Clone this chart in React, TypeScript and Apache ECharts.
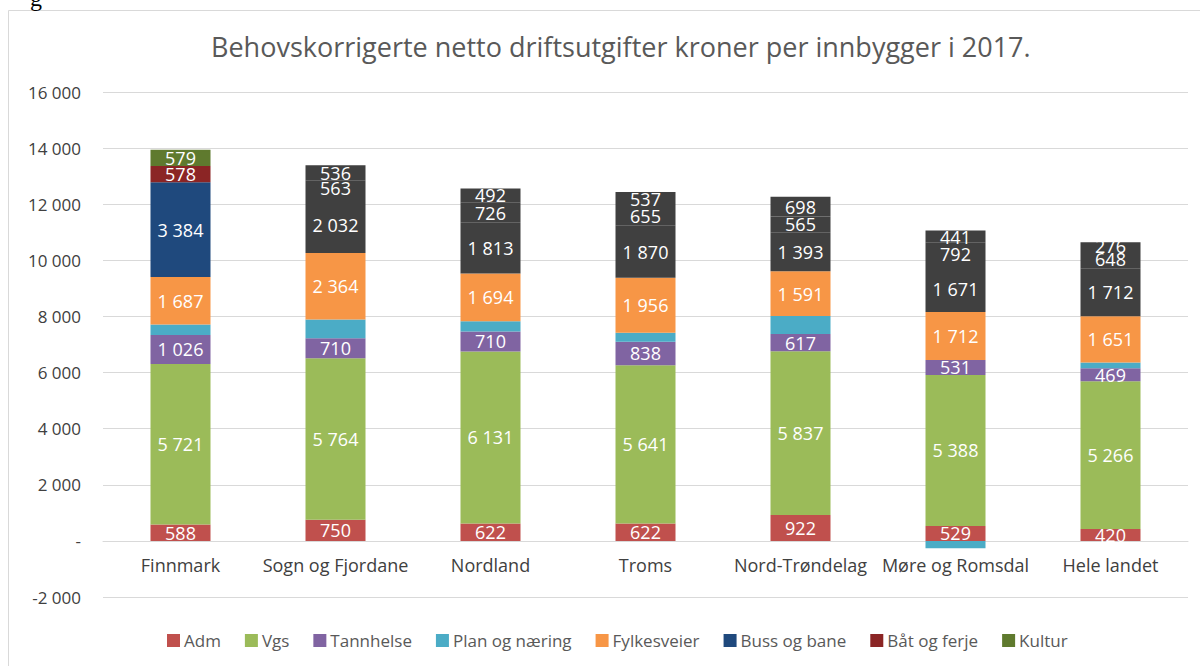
import React, { useEffect, useRef } from "react";
import * as echarts from "echarts";

const categories = [
  "Finnmark",
  "Sogn og Fjordane",
  "Nordland",
  "Troms",
  "Nord-Trøndelag",
  "Møre og Romsdal",
  "Hele landet",
];

const adm = [588, 750, 622, 622, 922, 529, 420];
const vgs = [5721, 5764, 6131, 5641, 5837, 5388, 5266];
const tannhelse = [1026, 710, 710, 838, 617, 531, 469];
const planOgNaering = [380, 670, 370, 320, 640, -260, 200];
const fylkesveier = [1687, 2364, 1694, 1956, 1591, 1712, 1651];
const bussOgBane = [3384, 2032, 1813, 1870, 1393, 1671, 1712];
const batOgFerje = [578, 563, 726, 655, 565, 792, 648];
const kultur = [579, 536, 492, 537, 698, 441, 276];

const yTicks = [-2000, 0, 2000, 4000, 6000, 8000, 10000, 12000, 14000, 16000];

const seriesNames = [
  "Adm",
  "Vgs",
  "Tannhelse",
  "Plan og næring",
  "Fylkesveier",
  "Buss og bane",
  "Båt og ferje",
  "Kultur",
];
const seriesValues = [adm, vgs, tannhelse, planOgNaering, fylkesveier, bussOgBane, batOgFerje, kultur];
const seriesColors = ["#C0504D", "#9BBB59", "#8064A2", "#4BACC6", "#F79646", "#1F497D", "#8B2525", "#5F7A2E"];
const showLabel = [true, true, true, false, true, true, true, true];
const darkOthers = [false, false, false, false, false, true, true, true];

const fmt = (v: number) => {
  if (v === 0) return "-";
  const s = String(Math.abs(v)).replace(/\B(?=(\d{3})+(?!\d))/g, " ");
  return (v < 0 ? "-" : "") + s;
};

const FONT = "Open Sans";
const DARK = "#404040";

export default function App() {
  const ref = useRef<HTMLDivElement>(null);
  useEffect(() => {
    if (!ref.current) return;
    const chart = echarts.init(ref.current, undefined, { renderer: "svg" });
    const series = seriesNames.map((name, si) => ({
      name,
      type: "bar",
      stack: "total",
      barWidth: 60,
      itemStyle: { color: seriesColors[si], borderColor: seriesColors[si], borderWidth: 1.5 },
      label: {
        show: showLabel[si],
        position: "inside",
        color: "#ffffff",
        fontFamily: FONT,
        fontSize: 18,
        formatter: (p: any) => fmt(p.value),
      },
      emphasis: { disabled: true },
      data: seriesValues[si].map((v, ci) =>
        darkOthers[si] && ci > 0
          ? { value: v, itemStyle: { color: DARK, borderColor: DARK } }
          : v
      ),
    }));
    chart.setOption({
      animation: false,
      backgroundColor: "#ffffff",
      title: {
        text: "Behovskorrigerte netto driftsutgifter kroner per innbygger i 2017.",
        left: 206,
        top: 28,
        textStyle: { fontFamily: FONT, fontSize: 27, fontWeight: "normal", color: "#595959" },
      },
      legend: {
        left: 162,
        top: 627,
        itemWidth: 11,
        itemHeight: 11,
        itemGap: 24,
        icon: "rect",
        textStyle: { fontFamily: FONT, fontSize: 17, color: "#595959" },
        data: seriesNames,
      },
      grid: { left: 103, right: 12, top: 92, bottom: 69, containLabel: false },
      xAxis: {
        type: "category",
        data: categories,
        offset: -56,
        axisLine: { show: true, onZero: false, lineStyle: { color: "#d9d9d9", width: 1 } },
        axisTick: { show: false },
        axisLabel: { interval: 0, margin: 15, fontFamily: FONT, fontSize: 18, color: "#404040" },
      },
      yAxis: {
        type: "value",
        min: yTicks[0],
        max: yTicks[yTicks.length - 1],
        interval: 2000,
        axisLine: { show: false },
        axisTick: { show: false },
        splitLine: { lineStyle: { color: "#d9d9d9", width: 1 } },
        axisLabel: {
          margin: 22,
          fontFamily: FONT,
          fontSize: 17,
          color: "#404040",
          formatter: (v: number) => fmt(v),
        },
      },
      graphic: [
        {
          type: "rect",
          shape: { x: 8.5, y: 10.5, width: 1200, height: 700 },
          style: { fill: "none", stroke: "#d9d9d9", lineWidth: 1 },
          silent: true,
        },
        {
          type: "text",
          x: 30,
          y: -14,
          style: { text: "g", fontFamily: "Liberation Serif", fontSize: 24, fill: "#000000" },
          silent: true,
        },
      ],
      series,
    });
    return () => chart.dispose();
  }, []);
  return (
    <div
      ref={ref}
      style={{ position: "absolute", left: 0, top: 0, width: 1200, height: 666 }}
    />
  );
}
